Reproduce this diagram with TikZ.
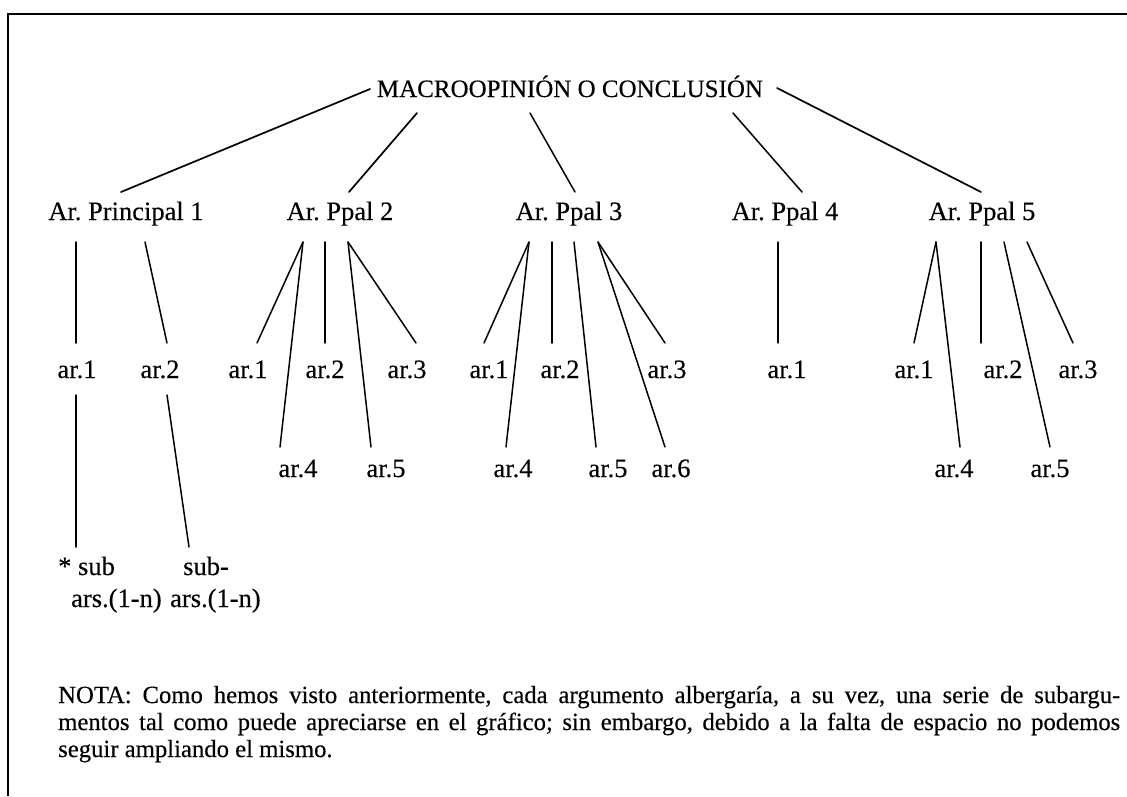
\documentclass[tikz,border=0pt]{standalone}
\usepackage{fontspec}
\setmainfont[FakeBold=0.3]{Liberation Serif}
\usetikzlibrary{calc}
\begin{document}
\frenchspacing
\begin{tikzpicture}[x=1pt,y=-1pt,
  lbl/.style={inner sep=0pt,anchor=base,font=\fontsize{26.5}{30}\selectfont},
  lblw/.style={inner sep=0pt,anchor=base west,font=\fontsize{26.5}{30}\selectfont},
  note/.style={inner sep=0pt,anchor=base west,font=\fontsize{24.7}{27}\selectfont},
  conn/.style={line width=1.5pt,line cap=round},
  frame/.style={line width=2.2pt}]
\useasboundingbox (0,0) rectangle (1127,796);
\draw[frame] (1127,14) -- (8,14) -- (8,796);
% top
\node[lbl,font=\fontsize{25}{30}\selectfont] (M) at (570,97) {MACROOPINIÓN O CONCLUSIÓN};
% level 1
\node[lbl] (P1) at (126,220) {Ar. Principal 1};
\node[lbl] (P2) at (340,220) {Ar. Ppal 2};
\node[lbl] (P3) at (569,220) {Ar. Ppal 3};
\node[lbl] (P4) at (785,220) {Ar. Ppal 4};
\node[lbl] (P5) at (982,220) {Ar. Ppal 5};
% level 2
\node[lbl] (a11) at (77,378) {ar.1};
\node[lbl] (a12) at (160,378) {ar.2};
\node[lbl] (a21) at (248,378) {ar.1};
\node[lbl] (a22) at (325,378) {ar.2};
\node[lbl] (a23) at (407,378) {ar.3};
\node[lbl] (a31) at (489,378) {ar.1};
\node[lbl] (a32) at (560,378) {ar.2};
\node[lbl] (a33) at (667,378) {ar.3};
\node[lbl] (a41) at (787,378) {ar.1};
\node[lbl] (a51) at (914,378) {ar.1};
\node[lbl] (a52) at (1003,378) {ar.2};
\node[lbl] (a53) at (1078,378) {ar.3};
% level 3
\node[lbl] (a24) at (298,477) {ar.4};
\node[lbl] (a25) at (386,477) {ar.5};
\node[lbl] (a34) at (513,477) {ar.4};
\node[lbl] (a35) at (608,477) {ar.5};
\node[lbl] (a36) at (671,477) {ar.6};
\node[lbl] (a54) at (954,477) {ar.4};
\node[lbl] (a55) at (1050,477) {ar.5};
% sub-arguments
\node[lblw] (s11) at (58,575) {* sub};
\node[lblw] (s11b) at (71,607) {ars.(1-n)};
\node[lblw] (s12) at (183,575) {sub-};
\node[lblw] (s12b) at (170,607) {ars.(1-n)};
% connectors: top
\draw[conn,line width=1.7pt] ($(M.base)+(-200,-8)$) -- ($(P1.base)+(-5,-28)$);
\draw[conn,line width=1.7pt] ($(M.base)+(-153,16)$) -- ($(P2.base)+(9,-28)$);
\draw[conn] ($(M.base)+(-40,16)$) -- ($(P3.base)+(6,-28)$);
\draw[conn] ($(M.base)+(163,16)$) -- ($(P4.base)+(17,-28)$);
\draw[conn,line width=1.7pt] ($(M.base)+(207,-9)$) -- ($(P5.base)+(-1,-28)$);
% P1
\draw[conn] ($(P1.base)+(-50,22)$) -- ($(a11.base)+(-1,-35)$);
\draw[conn] ($(P1.base)+(19,22)$) -- ($(a12.base)+(7,-35)$);
\draw[conn] ($(a11.base)+(-1,17)$) -- ($(s11.base west)+(18,-28)$);
\draw[conn] ($(a12.base)+(7,17)$) -- ($(s12.base west)+(6,-28)$);
% P2
\draw[conn] ($(P2.base)+(-37,22)$) -- ($(a21.base)+(9,-35)$);
\draw[conn] ($(P2.base)+(-37,22)$) -- ($(a24.base)+(-18,-30)$);
\draw[conn] ($(P2.base)+(-15,22)$) -- ($(a22.base)+(0,-35)$);
\draw[conn] ($(P2.base)+(8,22)$) -- ($(a25.base)+(-15,-30)$);
\draw[conn] ($(P2.base)+(8,22)$) -- ($(a23.base)+(9,-35)$);
% P3
\draw[conn] ($(P3.base)+(-40,22)$) -- ($(a31.base)+(-5,-35)$);
\draw[conn] ($(P3.base)+(-40,22)$) -- ($(a34.base)+(-7,-30)$);
\draw[conn] ($(P3.base)+(-17,22)$) -- ($(a32.base)+(-8,-35)$);
\draw[conn] ($(P3.base)+(5,22)$) -- ($(a35.base)+(-12,-30)$);
\draw[conn] ($(P3.base)+(29,22)$) -- ($(a33.base)+(-2,-35)$);
\draw[conn] ($(P3.base)+(29,22)$) -- ($(a36.base)+(-6,-30)$);
% P4
\draw[conn,line width=1.1pt] ($(P4.base)+(-7,22)$) -- ($(a41.base)+(-9,-35)$);
% P5
\draw[conn] ($(P5.base)+(-46,22)$) -- ($(a51.base)+(0,-35)$);
\draw[conn] ($(P5.base)+(-46,22)$) -- ($(a54.base)+(6,-30)$);
\draw[conn] ($(P5.base)+(-1,22)$) -- ($(a52.base)+(-22,-35)$);
\draw[conn] ($(P5.base)+(22,22)$) -- ($(a55.base)+(0,-30)$);
\draw[conn] ($(P5.base)+(45,22)$) -- ($(a53.base)+(-5,-35)$);
% note
\node[note] (nota1) at (58,703) {\makebox[1062pt][s]{NOTA: Como hemos visto anteriormente, cada argumento albergaría, a su vez, una serie de subargu-}};
\node[note] (nota2) at (58,730) {\makebox[1062pt][s]{mentos tal como puede apreciarse en el gráfico; sin embargo, debido a la falta de espacio no podemos}};
\node[note] (nota3) at (58,757) {seguir ampliando el mismo.};
\end{tikzpicture}
\end{document}
